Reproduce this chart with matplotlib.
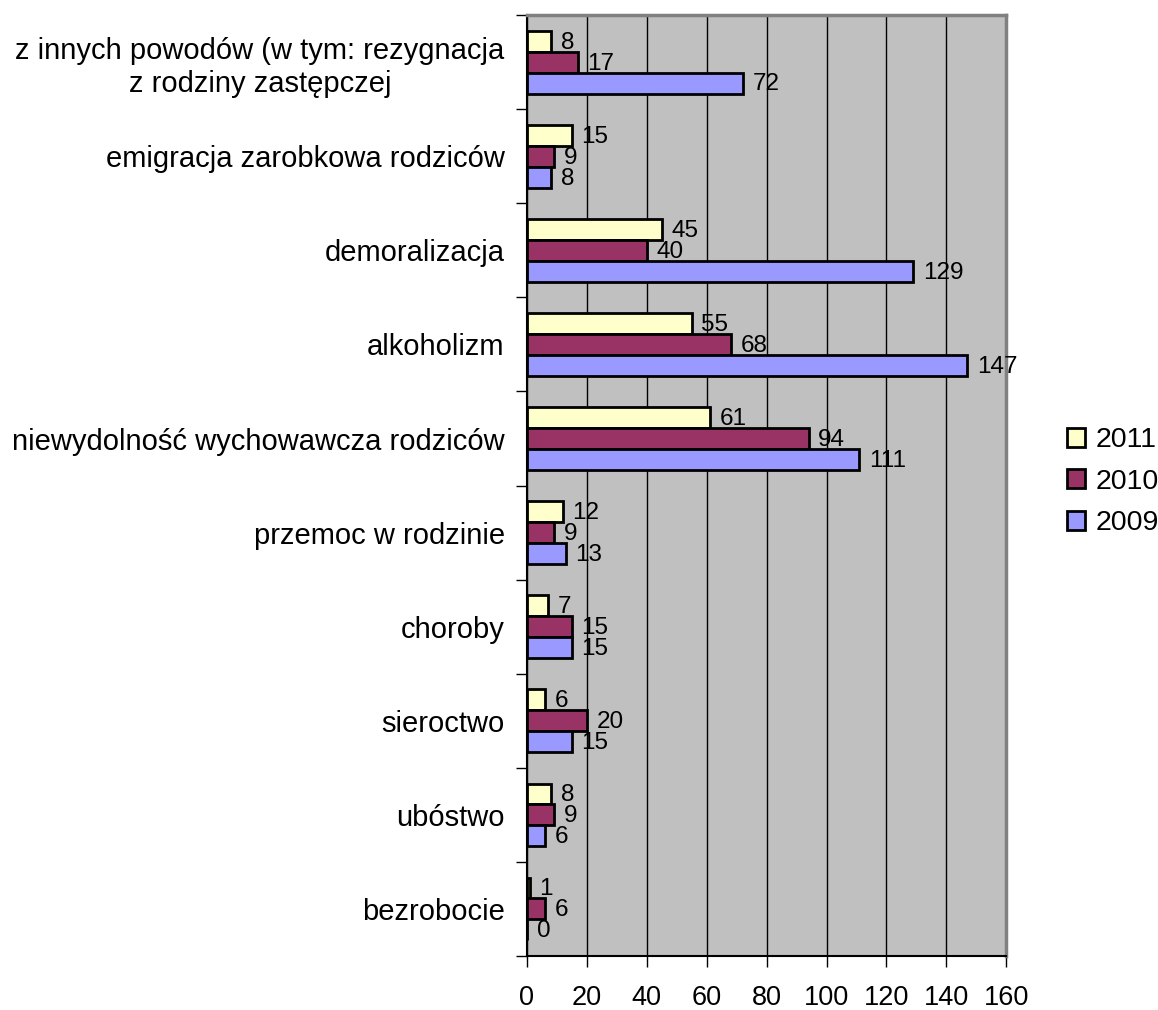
import matplotlib.pyplot as plt
import numpy as np

plt.rcParams['font.family'] = ['Liberation Sans', 'DejaVu Sans']

categories = [
    "bezrobocie",
    "ubóstwo",
    "sieroctwo",
    "choroby",
    "przemoc w rodzinie",
    "niewydolność wychowawcza rodziców",
    "alkoholizm",
    "demoralizacja",
    "emigracja zarobkowa rodziców",
    "z innych powodów (w tym: rezygnacja\nz rodziny zastępczej",
]
v2011 = [1, 8, 6, 7, 12, 61, 55, 45, 15, 8]
v2010 = [6, 9, 20, 15, 9, 94, 68, 40, 9, 17]
v2009 = [0, 6, 15, 15, 13, 111, 147, 129, 8, 72]

series = [("2011", v2011, "#FFFFCC"), ("2010", v2010, "#993366"), ("2009", v2009, "#9999FF")]

fig = plt.figure(figsize=(11.58, 10.10), dpi=100)
ax = fig.add_axes([0.455, 0.0535, 0.414, 0.9315])
ax.set_facecolor("#C0C0C0")

y = np.arange(len(categories))
h = 0.222
offsets = [h, 0, -h]
handles = []
for (name, vals, col), off in zip(series, offsets):
    bars = ax.barh(y + off, vals, height=h, color=col, edgecolor="black",
                   linewidth=2, label=name, zorder=3)
    handles.append(bars)
    for yy, v in zip(y + off, vals):
        ax.annotate(str(v), (v, yy), xytext=(7, -1), textcoords="offset points",
                    va="center", ha="left", fontsize=17.5, zorder=4)

ax.set_xlim(0, 160)
ax.set_ylim(-0.5, len(categories) - 0.5)
ax.set_xticks(np.arange(0, 161, 20))
ax.tick_params(axis="x", labelsize=19.5, length=8, width=1, direction="out", pad=13)
ax.grid(axis="x", color="black", linewidth=1, zorder=1)

ax.set_yticks(y)
ax.set_yticklabels(categories, fontsize=21, ha="right", multialignment="center")
ax.set_yticks(np.arange(-0.5, len(categories), 1), minor=True)
ax.tick_params(axis="y", which="major", length=0, pad=16)
ax.tick_params(axis="y", which="minor", length=8, width=1, direction="out")

for side in ("top", "right"):
    ax.spines[side].set_color("#808080")
    ax.spines[side].set_linewidth(2.5)
ax.spines["left"].set_color("black")
ax.spines["left"].set_linewidth(1.5)
ax.spines["bottom"].set_color("black")
ax.spines["bottom"].set_linewidth(1.5)

fig.legend(handles=handles, labels=[s[0] for s in series], loc="center left",
           bbox_to_anchor=(0.899, 0.523), frameon=False, fontsize=20.5,
           handlelength=0.65, handleheight=0.65, handletextpad=0.35,
           labelspacing=0.55)

fig.savefig("out.png", dpi=100)
